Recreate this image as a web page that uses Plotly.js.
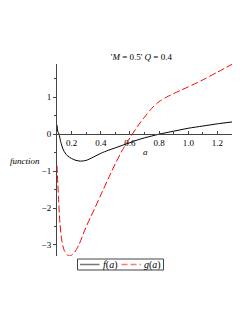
<!DOCTYPE html>
<html><head><meta charset="utf-8">
<script src="https://cdn.plot.ly/plotly-3.0.1.min.js"></script>
<style>body{margin:0;background:#fff}#c{width:249px;height:323px}</style>
</head><body><div id="c"></div>
<script>
const aF = [0.1,0.105,0.114,0.125,0.144,0.17,0.2,0.23,0.26,0.3,0.35,0.4,0.45,0.5,0.55,0.6,0.65,0.7,0.75,0.8,0.9,1.0,1.1,1.2,1.3];
const fVals = [0.25,0.08,0,-0.2,-0.43,-0.58,-0.66,-0.71,-0.73,-0.71,-0.62,-0.52,-0.44,-0.37,-0.3,-0.23,-0.16,-0.1,-0.05,0,0.08,0.16,0.22,0.28,0.33];
const aG = [0.1,0.11,0.12,0.13,0.14,0.15,0.17,0.19,0.22,0.25,0.29,0.33,0.36,0.4,0.45,0.5,0.55,0.6,0.65,0.7,0.75,0.8,0.85,0.9,0.95,1.0,1.1,1.2,1.3];
const gVals = [-0.85,-1.7,-2.4,-2.8,-3.02,-3.15,-3.27,-3.3,-3.2,-3.0,-2.6,-2.25,-2.0,-1.65,-1.22,-0.8,-0.42,-0.1,0.2,0.46,0.7,0.88,1.0,1.1,1.19,1.28,1.47,1.68,1.89];
const seriesNames = ['<i>f</i>(<i>a</i>)', '<i>g</i>(<i>a</i>)'];
const xTicks = [0.2,0.4,0.6,0.8,1.0,1.2];
const xTickText = ['0.2','0.4','0.6','0.8','1.0','1.2'];
const yTicks = [-3,-2,-1,0,1];
const yTickText = ['\u22123','\u22122','\u22121','0','1'];
const yMin = -3.3, yMax = 1.9;

const serif = 'Liberation Serif, Times New Roman, serif';
const W = 249, H = 323, L = 57, R = 17, T = 64, B = 67;
const pw = W - L - R, ph = H - T - B;
const px = v => (v - L) / pw;
const py = v => (H - B - v) / ph;

const traces = [
 {x:aF, y:fVals, type:'scatter', mode:'lines', name:seriesNames[0], showlegend:false, line:{color:'#000000', width:1, shape:'spline', smoothing:0.8}},
 {x:aG, y:gVals, type:'scatter', mode:'lines', name:seriesNames[1], showlegend:false, line:{color:'#ff0000', width:1, dash:'7px,3px', shape:'spline', smoothing:0.8}}
];
const legY = 264.5;
const layout = {
 width:W, height:H,
 margin:{l:L, r:R, t:T, b:B},
 paper_bgcolor:'#fff', plot_bgcolor:'#fff',
 font:{family:serif, size:9, color:'#000'},
 showlegend:false,
 title:{text:"'<i>M</i> = 0.5' <i>Q</i> = 0.4", font:{family:serif, size:9, color:'#000'}, x:120/249, xref:'paper', xanchor:'center', y:1-57/323, yanchor:'middle'},
 xaxis:{range:[0.1,1.3], anchor:'free', position:(0-yMin)/(yMax-yMin), showline:true, linecolor:'#444', linewidth:1,
   showgrid:false, zeroline:false, ticks:'inside', ticklen:3, tickcolor:'#444', tickvals:xTicks, ticktext:xTickText,
   minor:{tickvals:[0.3,0.5,0.7,0.9,1.1], ticks:'inside', ticklen:2, tickcolor:'#444'},
   tickfont:{family:serif, size:9, color:'#000'}},
 yaxis:{range:[yMin,yMax], showline:true, linecolor:'#444', linewidth:1, showgrid:false, zeroline:false,
   ticks:'outside', ticklen:3, tickcolor:'#444', tickvals:yTicks, ticktext:yTickText,
   minor:{tickvals:[-2.5,-1.5,-0.5,0.5,1.5], ticks:'outside', ticklen:2, tickcolor:'#444'},
   tickfont:{family:serif, size:9, color:'#000'}},
 shapes:[
  {type:'rect', xref:'paper', yref:'paper', x0:px(77.5), x1:px(163.5), y0:py(259), y1:py(270), line:{color:'#444', width:1}, fillcolor:'rgba(0,0,0,0)'},
  {type:'line', xref:'paper', yref:'paper', x0:px(80), x1:px(99.5), y0:py(legY), y1:py(legY), line:{color:'#777', width:1.5}},
  {type:'line', xref:'paper', yref:'paper', x0:px(121.5), x1:px(141), y0:py(legY), y1:py(legY), line:{color:'#ff7777', width:1.5, dash:'6px,3px'}}
 ],
 annotations:[
  {text:'<i>function</i>', xref:'paper', yref:'paper', x:px(25), y:py(161), showarrow:false, xanchor:'center', yanchor:'middle', font:{family:serif, size:9, color:'#000'}},
  {text:'<i>a</i>', xref:'paper', yref:'paper', x:px(145), y:py(152), showarrow:false, xanchor:'center', yanchor:'middle', font:{family:serif, size:9, color:'#000'}},
  {text:seriesNames[0], xref:'paper', yref:'paper', x:px(101), y:py(legY), showarrow:false, xanchor:'left', yanchor:'middle', font:{family:serif, size:10, color:'#000'}},
  {text:seriesNames[1], xref:'paper', yref:'paper', x:px(142), y:py(legY), showarrow:false, xanchor:'left', yanchor:'middle', font:{family:serif, size:10, color:'#000'}}
 ]
};
Plotly.newPlot('c', traces, layout, {staticPlot:true, displayModeBar:false});
</script></body></html>
